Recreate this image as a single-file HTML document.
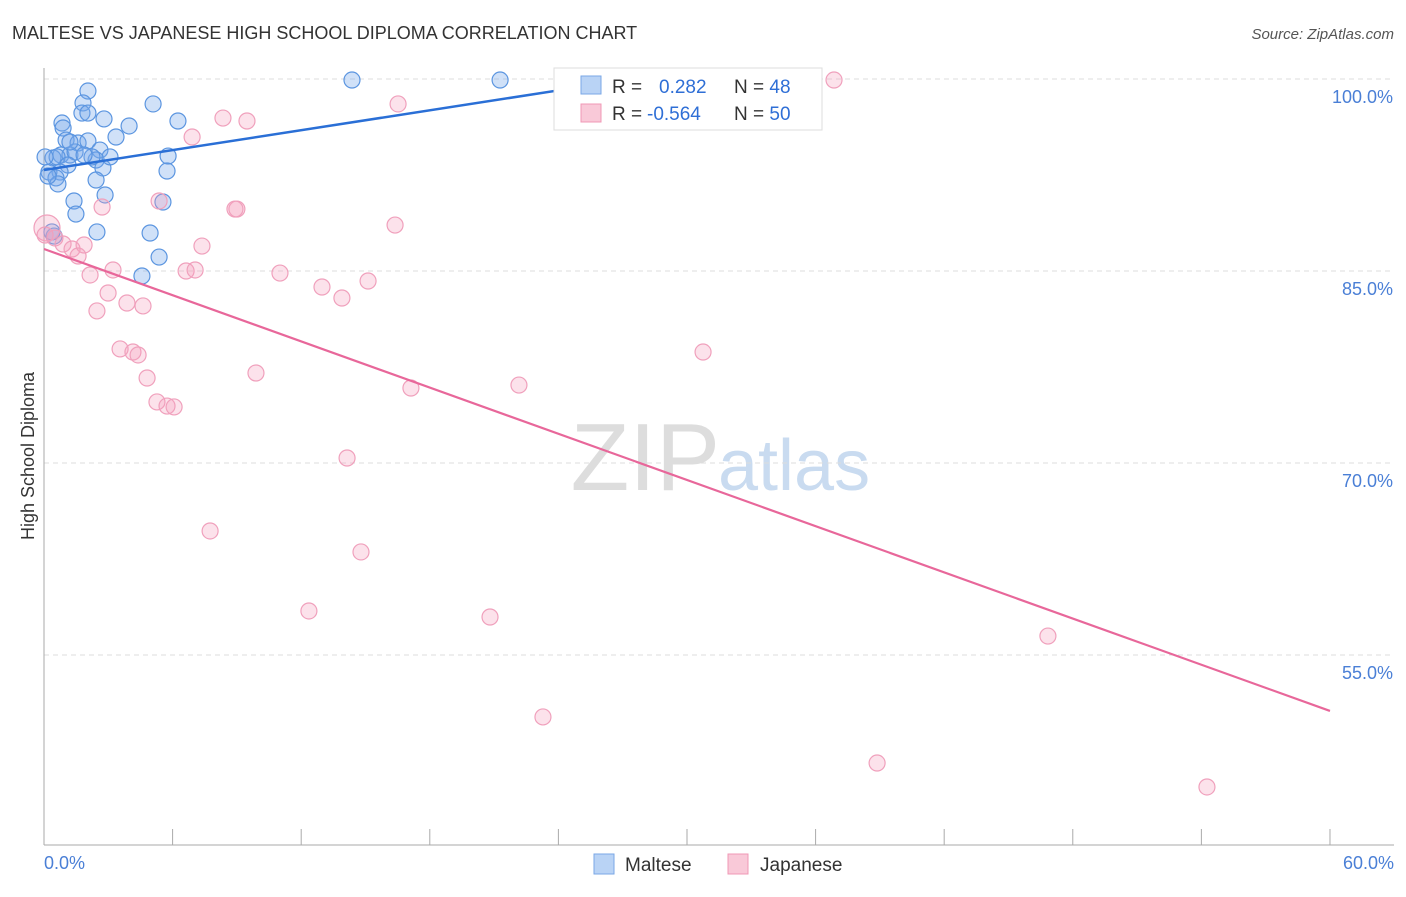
<!DOCTYPE html>
<html><head><meta charset="utf-8"><style>
body{margin:0;background:#fff;font-family:"Liberation Sans",sans-serif}
svg text{font-family:"Liberation Sans",sans-serif}
</style></head><body>
<svg id="c" width="1406" height="892">
<text x="12" y="39" font-size="18" fill="#333">MALTESE VS JAPANESE HIGH SCHOOL DIPLOMA CORRELATION CHART</text>
<text x="1394" y="39" font-size="15" fill="#555" font-style="italic" text-anchor="end">Source: ZipAtlas.com</text>
<text x="720" y="490" font-size="96" fill="#ddd" font-family="Liberation Serif" text-anchor="end">ZIP</text>
<text x="718" y="490" font-size="72" fill="#c9dbf0">atlas</text>
<g id="grid"></g><g id="axes"></g><g id="pts"></g><g id="lines"></g>
<text transform="translate(34,456) rotate(-90)" font-size="18" fill="#333" text-anchor="middle">High School Diploma</text>
<text x="44" y="869" font-size="18" fill="#4a7fd6">0.0%</text>
<text x="1394" y="869" font-size="18" fill="#4a7fd6" text-anchor="end">60.0%</text>
<g>
<rect x="554" y="68" width="268" height="62" fill="#fff" stroke="#ddd"/>
<rect x="581" y="76" width="20" height="18" fill="#b9d3f5" stroke="#7aa7e6"/>
<rect x="581" y="104" width="20" height="18" fill="#f9c9d8" stroke="#f098b6"/>
<text x="612" y="93" font-size="19" fill="#333">R = <tspan fill="#2f6fd6" x="659">0.282</tspan><tspan x="734" fill="#333">N = </tspan><tspan fill="#2f6fd6">48</tspan></text>
<text x="612" y="120" font-size="19" fill="#333">R = <tspan fill="#2f6fd6" x="647">-0.564</tspan><tspan x="734" fill="#333">N = </tspan><tspan fill="#2f6fd6">50</tspan></text>
</g>
<g>
<rect x="594" y="854" width="20" height="20" fill="#b9d3f5" stroke="#7aa7e6"/>
<text x="625" y="871" font-size="19" fill="#333">Maltese</text>
<rect x="728" y="854" width="20" height="20" fill="#f9c9d8" stroke="#f098b6"/>
<text x="760" y="871" font-size="19" fill="#333">Japanese</text>
</g>
</svg>
<script>
const yTicks=[100,85,70,55];
const yTickLabels=["100.0%","85.0%","70.0%","55.0%"];
const xTicks=[0,6,12,18,24,30,36,42,48,54,60];
const malteseX=[2.05,1.82,1.77,2.05,0.84,2.80,0.89,5.09,6.25,3.97,3.36,14.37,21.28,1.03,1.59,2.05,0.79,1.21,1.45,2.61,0.42,0.61,1.12,2.43,2.75,0.75,0.23,0.56,0.65,2.43,2.85,5.79,5.74,5.55,1.40,1.49,2.47,4.95,5.37,4.57,0.47,0.19,0.05,2.24,3.08,1.87,1.21,0.37];
const malteseY=[99.06,98.13,97.34,97.34,96.56,96.88,96.17,98.05,96.72,96.33,95.47,99.92,99.92,95.23,95.0,95.16,94.06,94.06,94.3,94.45,93.83,93.91,93.28,93.67,93.05,92.73,92.73,92.27,91.8,92.11,90.94,93.98,92.81,90.39,90.47,89.45,88.05,87.97,86.09,84.61,87.73,92.42,93.91,93.91,93.91,94.06,95.08,88.05];
const japaneseX=[36.86,16.52,8.35,9.47,6.91,5.37,9.0,2.71,16.38,0.14,0.51,0.89,1.31,1.87,1.59,2.15,3.22,7.37,6.63,7.05,11.01,12.97,13.9,15.12,2.99,2.47,3.87,4.62,3.55,4.15,4.39,4.81,9.89,17.12,22.16,30.75,5.27,5.74,6.07,14.14,7.75,14.79,12.36,20.81,46.84,23.28,38.87,54.26,8.91,0.05];
const japaneseY=[99.92,98.05,96.95,96.72,95.47,90.47,89.84,90.0,88.59,88.36,87.58,87.11,86.72,87.03,86.17,84.69,85.08,86.95,85.0,85.08,84.84,83.75,82.89,84.22,83.28,81.88,82.5,82.27,78.91,78.67,78.44,76.64,77.03,75.86,76.09,78.67,74.77,74.45,74.38,70.39,64.69,63.05,58.44,57.97,56.48,50.16,46.56,44.69,89.84,87.81];
const malteseTrend=[[0,92.89],[25,99.37]];
const japaneseTrend=[[0,86.72],[60,50.63]];
const X=v=>44+v*21.433, Y=v=>79+(100-v)*12.8;
const NS='http://www.w3.org/2000/svg';
function mk(t,a,p){const e=document.createElementNS(NS,t);for(const k in a)e.setAttribute(k,a[k]);document.getElementById(p).appendChild(e);return e;}
yTicks.forEach((t,i)=>{
 const g=mk('line',{x1:44,x2:1394,y1:Y(t),y2:Y(t),stroke:'#ddd','stroke-dasharray':'5,4'},'grid');
 
 
 const l=mk('text',{x:1393,y:Y(t)+24,'font-size':18,fill:'#4a7fd6','text-anchor':'end'},'axes');
 l.textContent=yTickLabels[i];
 
 
});
const ax=mk('line',{x1:44,x2:44,y1:68,y2:845,stroke:'#aaa'},'axes');


const bx=mk('line',{x1:44,x2:1394,y1:845,y2:845,stroke:'#aaa'},'axes');


xTicks.forEach(t=>{
 const k=mk('line',{x1:X(t),x2:X(t),y1:829,y2:845,stroke:'#aaa'},'axes');
 
 
});
malteseX.forEach((x,i)=>{
 const c=mk('circle',{cx:X(x),cy:Y(malteseY[i]),r:8,fill:'rgba(120,170,235,0.35)',stroke:'#5b95e0','stroke-width':1.2},'pts');
 
 
});
japaneseX.forEach((x,i)=>{
 const c=mk('circle',{cx:X(x),cy:Y(japaneseY[i]),r:i==9?13:8,fill:'rgba(245,160,190,0.3)',stroke:'#f0a0bc','stroke-width':1.2},'pts');
 
 
});
const l1=mk('line',{x1:X(malteseTrend[0][0]),y1:Y(malteseTrend[0][1]),x2:X(malteseTrend[1][0]),y2:Y(malteseTrend[1][1]),stroke:'#2a6fd6','stroke-width':2.5},'lines');


const l2=mk('line',{x1:X(japaneseTrend[0][0]),y1:Y(japaneseTrend[0][1]),x2:X(japaneseTrend[1][0]),y2:Y(japaneseTrend[1][1]),stroke:'#e8679a','stroke-width':2.2},'lines');


</script>
</body></html>
